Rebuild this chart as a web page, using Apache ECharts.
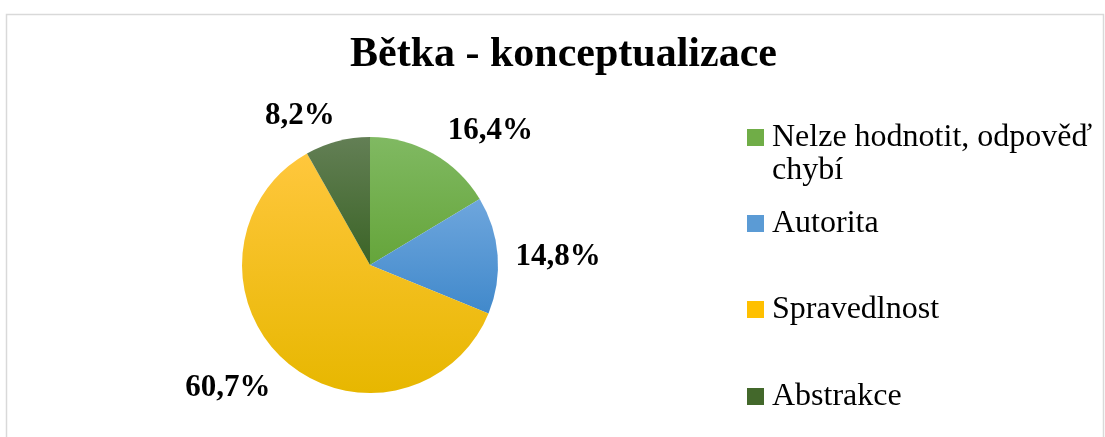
<!DOCTYPE html>
<html>
<head>
<meta charset="utf-8">
<script src="https://cdn.jsdelivr.net/npm/echarts@6/dist/echarts.min.js"></script>
<style>
	html, body { margin: 0; padding: 0; background: #fff; }
	#main { width: 1105px; height: 437px; }
</style>
</head>
<body>
<div id="main"></div>
<script>
var categories = ['Nelze hodnotit, odpověď chybí', 'Autorita', 'Spravedlnost', 'Abstrakce'];
// leading empty line keeps the marker next to the first text line
var legendLabels = ['\nNelze hodnotit, odpověď\nchybí', 'Autorita', 'Spravedlnost', 'Abstrakce'];
var values = [16.4, 14.8, 60.7, 8.2];
var colorsTop = ['#80b962', '#6ea6dd', '#ffc73d', '#637f55'];
var colorsBottom = ['#65a53a', '#4189cb', '#e7b700', '#3b6426'];
var legendColors = ['#70ad47', '#5b9bd5', '#ffc000', '#43682b'];
var legendTops = [88, 207, 293, 380];
var labelShift = [0, -12, -5, -5];

var serif = '"Liberation Serif", "Times New Roman", serif';
var myChart = echarts.init(document.getElementById('main'));

var pieData = [];
var legends = [];
for (var i = 0; i < categories.length; i++) {
	pieData.push({
		name: categories[i],
		value: values[i],
		label: {distanceToLabelLine: labelShift[i]},
		itemStyle: {
			color: new echarts.graphic.LinearGradient(0, 0, 0, 1, [
				{offset: 0, color: colorsTop[i]},
				{offset: 1, color: colorsBottom[i]}
			])
		}
	});
	legends.push({
		orient: 'vertical',
		left: 747,
		top: legendTops[i],
		padding: 0,
		itemWidth: 17,
		itemHeight: 17,
		icon: 'rect',
		selectedMode: false,
		data: [{name: categories[i], itemStyle: {color: legendColors[i]}}],
		formatter: function (name) {
			return legendLabels[categories.indexOf(name)];
		},
		textStyle: {
			fontFamily: serif,
			fontSize: 32,
			lineHeight: 33,
			padding: [0, 0, 0, 3],
			color: '#000'
		}
	});
}

var option = {
	backgroundColor: '#fff',
	animation: false,
	graphic: [{
		type: 'rect',
		shape: {x: 6.5, y: 14.5, width: 1097, height: 440},
		style: {fill: 'none', stroke: '#d9d9d9', lineWidth: 1.5},
		silent: true
	}],
	title: {
		text: 'Bětka - konceptualizace',
		left: 350,
		top: 34,
		padding: 0,
		textStyle: {
			fontFamily: serif,
			fontWeight: 'bold',
			fontSize: 42,
			color: '#000'
		}
	},
	legend: legends,
	series: [{
		type: 'pie',
		center: [370, 265],
		radius: 128,
		startAngle: 90,
		clockwise: true,
		avoidLabelOverlap: false,
		silent: true,
		label: {
			show: true,
			position: 'outside',
			formatter: function (p) {
				return p.value.toFixed(1).replace('.', ',') + '%';
			},
			fontFamily: serif,
			fontWeight: 'bold',
			fontSize: 31,
			color: '#000'
		},
		labelLine: {
			show: false,
			length: 30,
			length2: 0
		},
		labelLayout: {
			dy: 4
		},
		data: pieData
	}]
};
myChart.setOption(option);
</script>
</body>
</html>
